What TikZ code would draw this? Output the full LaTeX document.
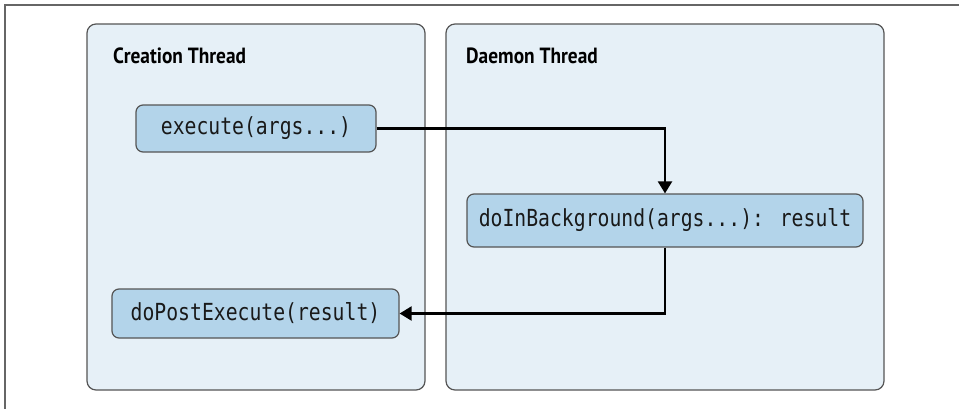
\documentclass[tikz,border=0pt]{standalone}
\usepackage{fontspec}
\usetikzlibrary{arrows.meta}
\newfontfamily\titlefont{PT Sans}[FakeStretch=0.88]
\newfontfamily\codefont{DejaVu Sans Mono}[FakeStretch=0.84]
\definecolor{panelfill}{HTML}{E6F0F7}
\definecolor{boxfill}{HTML}{B3D4EA}
\definecolor{edgegray}{HTML}{555555}
\tikzset{
  panel/.style={draw=edgegray, line width=1.2bp, fill=panelfill, rounded corners=9bp},
  title/.style={anchor=west, inner sep=0pt, font=\titlefont\bfseries\fontsize{22bp}{25bp}\selectfont},
  codebox/.style={draw=edgegray, line width=1.2bp, fill=boxfill, rounded corners=7bp,
    inner sep=0pt, font=\codefont\fontsize{23.5bp}{26bp}\selectfont, text=black!90},
  flow/.style={line width=2.2bp, -{Triangle[length=12bp,width=14bp]}}
}
\begin{document}
\begin{tikzpicture}[x=1bp,y=-1bp]
\useasboundingbox (0,0) rectangle (959,409);
\draw[color=gray!80!black, line width=1.5bp] (959,5) -- (5,5) -- (5,409);
\path[panel] (87,24) rectangle (425,390);
\path[panel] (446,24) rectangle (884,390);
\node[title] (t1) at (113,56) {Creation Thread};
\node[title] (t2) at (466,56) {Daemon Thread};
\node[codebox, minimum width=240bp, minimum height=47bp] (exec) at (256,128.5) {execute(args...)};
\node[codebox, minimum width=396bp, minimum height=53bp] (bg) at (665,220.5) {doInBackground(args...): result};
\node[codebox, minimum width=287bp, minimum height=49bp] (post) at (255.5,313.5) {doPostExecute(result)};
\draw[flow] (exec.east) -| (bg.north);
\draw[flow] (bg.south) |- (post.east);
\end{tikzpicture}
\end{document}
